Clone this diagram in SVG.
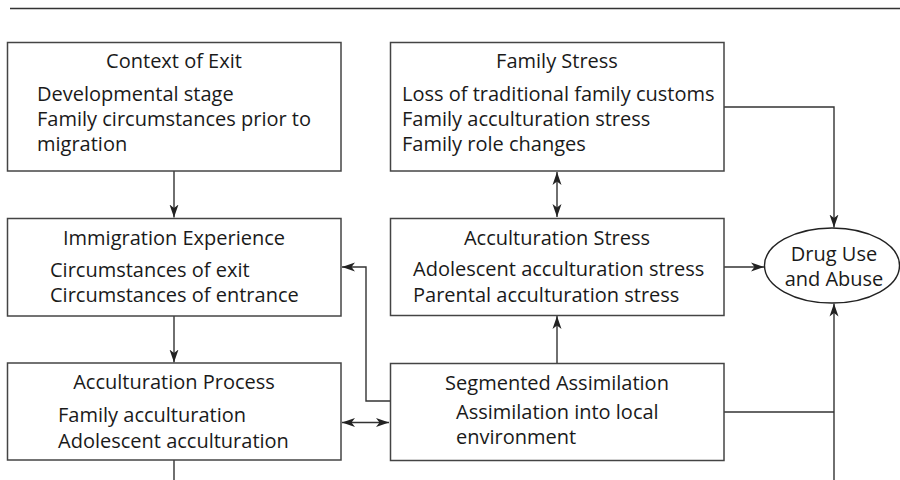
<svg xmlns="http://www.w3.org/2000/svg" width="900" height="480" viewBox="0 0 900 480">
<style>
.box{fill:#fff;stroke:#444;stroke-width:1.5}
.t{font-family:"Open Sans","Noto Sans","Liberation Sans",sans-serif;font-size:20px;fill:#1a1a1a}
.c{text-anchor:middle}
.ln{fill:none;stroke:#333;stroke-width:1.4}
</style>
<defs>
<marker id="ah" viewBox="0 0 13 10" refX="13" refY="5" markerWidth="13" markerHeight="10" markerUnits="userSpaceOnUse" orient="auto-start-reverse">
<path d="M0,0.5 L13,5 L0,9.5 L3.5,5 Z" fill="#222"/>
</marker>
</defs>
<rect width="900" height="480" fill="#fff"/>
<line x1="10" y1="8.5" x2="900" y2="8.5" stroke="#333" stroke-width="1.5"/>

<g id="connectors">
<line class="ln" x1="174" y1="171" x2="174" y2="217.5" marker-end="url(#ah)"/>
<line class="ln" x1="174" y1="316" x2="174" y2="362.5" marker-end="url(#ah)"/>
<line class="ln" x1="174" y1="460" x2="174" y2="480"/>
<line class="ln" x1="557" y1="172" x2="557" y2="217" marker-start="url(#ah)" marker-end="url(#ah)"/>
<polyline class="ln" points="724,107 834,107 834,227.5" marker-end="url(#ah)"/>
<line class="ln" x1="557" y1="363" x2="557" y2="316" marker-end="url(#ah)"/>
<polyline class="ln" points="390,401 366,401 366,267 342,267" marker-end="url(#ah)"/>
<line class="ln" x1="342" y1="422.5" x2="389" y2="422.5" marker-start="url(#ah)" marker-end="url(#ah)"/>
<line class="ln" x1="724" y1="267" x2="764" y2="267" marker-end="url(#ah)"/>
<line class="ln" x1="724" y1="412" x2="834" y2="412"/>
<line class="ln" x1="834" y1="480" x2="834" y2="303.5" marker-end="url(#ah)"/>
</g>

<g id="context-of-exit">
<rect class="box" x="7.5" y="42.5" width="333.5" height="128.5"/>
<text class="t c" x="174" y="68">Context of Exit</text>
<text class="t" x="37" y="101">Developmental stage</text>
<text class="t" x="37" y="126">Family circumstances prior to</text>
<text class="t" x="37" y="151">migration</text>
</g>

<g id="family-stress">
<rect class="box" x="390.5" y="42.5" width="333.5" height="128.5"/>
<text class="t c" x="557" y="68">Family Stress</text>
<text class="t" x="402" y="101">Loss of traditional family customs</text>
<text class="t" x="402" y="126">Family acculturation stress</text>
<text class="t" x="402" y="151">Family role changes</text>
</g>

<g id="immigration-experience">
<rect class="box" x="7.5" y="218.5" width="333.5" height="97.5"/>
<text class="t c" x="174" y="245">Immigration Experience</text>
<text class="t" x="50" y="277">Circumstances of exit</text>
<text class="t" x="50" y="302">Circumstances of entrance</text>
</g>

<g id="acculturation-stress">
<rect class="box" x="390.5" y="218.5" width="333.5" height="97"/>
<text class="t c" x="557" y="245">Acculturation Stress</text>
<text class="t" x="413" y="276">Adolescent acculturation stress</text>
<text class="t" x="413" y="302">Parental acculturation stress</text>
</g>

<g id="acculturation-process">
<rect class="box" x="7.5" y="363" width="333.5" height="97"/>
<text class="t c" x="174" y="388.5">Acculturation Process</text>
<text class="t" x="58" y="421.5">Family acculturation</text>
<text class="t" x="58" y="447.5">Adolescent acculturation</text>
</g>

<g id="segmented-assimilation">
<rect class="box" x="390.5" y="363.5" width="333.5" height="97"/>
<text class="t c" x="557" y="389.5">Segmented Assimilation</text>
<text class="t" x="456" y="418.5">Assimilation into local</text>
<text class="t" x="456" y="444">environment</text>
</g>

<g id="drug-use">
<ellipse cx="832" cy="265.5" rx="67.5" ry="37.5" fill="#fff" stroke="#222" stroke-width="1.4"/>
<text class="t c" x="834" y="260.5">Drug Use</text>
<text class="t c" x="834" y="285.5">and Abuse</text>
</g>
</svg>
